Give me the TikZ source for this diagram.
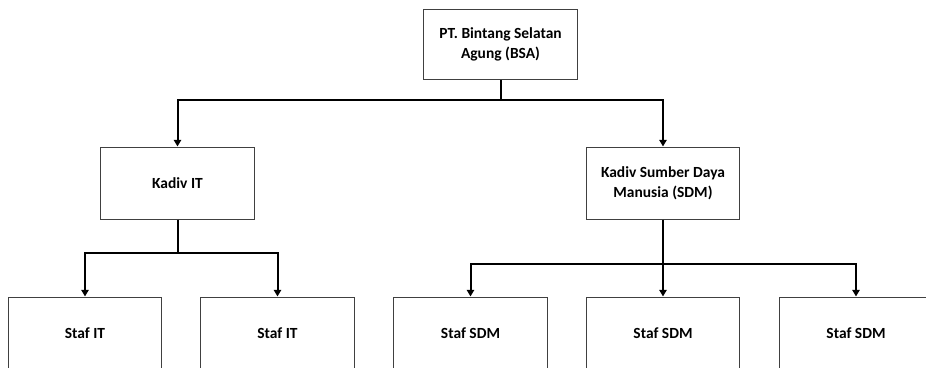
\documentclass[tikz,border=0pt]{standalone}
\usepackage{fontspec}
\setmainfont{Carlito}
\usetikzlibrary{arrows.meta}
\begin{document}
\begin{tikzpicture}[x=0.75pt,y=-0.75pt,
  box/.style={draw=black!75,line width=0.75pt,fill=white,minimum width=115pt,minimum height=54pt,
    align=center,inner sep=0pt,font=\fontsize{11.6}{15}\selectfont\bfseries},
  conn/.style={line width=1.5pt,black},
  arr/.style={conn,-{Triangle[width=5.5pt,length=5pt]}}]
\useasboundingbox (0,0) rectangle (926,368);
\clip (0,0) rectangle (926,368);
\node[box,minimum width=116pt,minimum height=53pt] (top) at (500.5,44.5) {PT. Bintang Selatan\\Agung (BSA)};
\node[box] (kit) at (177.5,183) {Kadiv IT};
\node[box] (ksdm) at (663,183) {Kadiv Sumber Daya\\Manusia (SDM)};
\node[box] (s1) at (85,333) {Staf IT};
\node[box] (s2) at (277.5,333) {Staf IT};
\node[box] (s3) at (470.5,333) {Staf SDM};
\node[box] (s4) at (663,333) {Staf SDM};
\node[box] (s5) at (856,333) {Staf SDM};
\coordinate (j0) at (top.south |- 0,100);
\coordinate (j1) at (kit.south |- 0,253);
\coordinate (j2) at (ksdm.south |- 0,264);
\draw[conn] (top.south) -- (j0);
\draw[arr] (j0) -| (kit.north);
\draw[arr] (j0) -| (ksdm.north);
\draw[conn] (kit.south) -- (j1);
\draw[arr] (j1) -| (s1.north);
\draw[arr] (j1) -| (s2.north);
\draw[arr] (ksdm.south) -- (s4.north);
\draw[arr] (j2) -| (s3.north);
\draw[arr] (j2) -| (s5.north);
\end{tikzpicture}
\end{document}
